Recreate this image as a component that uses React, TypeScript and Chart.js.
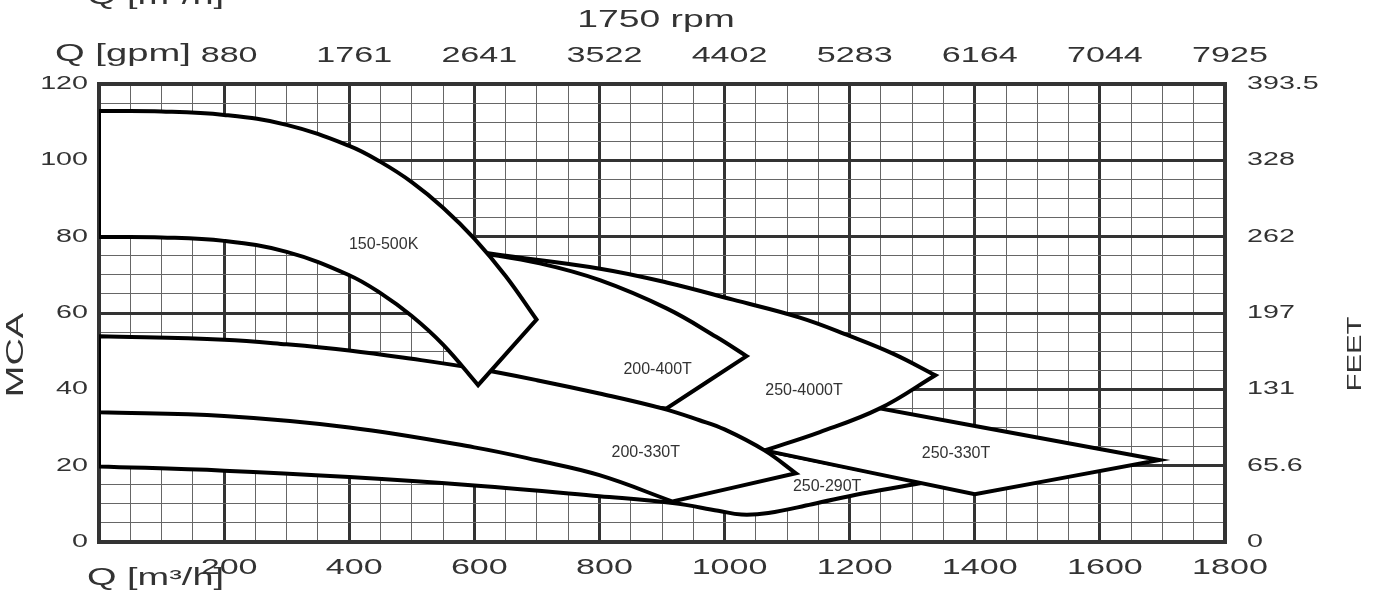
import React, { useEffect, useRef } from 'react';
import { Chart, registerables } from 'chart.js';

Chart.register(...registerables);

type Pt = [number, number];

// Pump models, listed from the topmost field to the lowest one.
const models = ['150-500K', '200-330T', '200-400T', '250-4000T', '250-330T', '250-290T'];

// Outline of each operating field, edge by edge, as [flow m³/h, head m].
// Sections that run underneath a neighbouring field are kept inside it.
const field150_500K: Pt[][] = [
  [[0, 112.9], [100, 112.8], [200, 111.9], [300, 109.3], [400, 103.8], [450, 99.6], [500, 94.3], [550, 87.6], [600, 79.5], [650, 69.7], [699.4, 58.3]],
  [[699.4, 58.3], [606, 41.1]],
  [[606, 41.1], [550, 51.7], [500, 59.2], [450, 65.2], [400, 69.9], [300, 76.0], [200, 78.9], [100, 79.8], [0, 79.9]],
  [[0, 79.9], [0, 112.9]],
];

const field200_330T: Pt[][] = [
  [[0, 53.9], [200, 53.0], [300, 51.8], [400, 50.2], [500, 48.0], [600, 45.5], [700, 42.4], [800, 38.9], [900, 35.0], [960, 31.9], [1000, 29.5], [1063.8, 24.0], [1114, 18.0]],
  [[1114, 18.0], [917, 10.6]],
  [[917, 10.6], [800, 17.5], [700, 21.4], [600, 24.8], [400, 30.0], [200, 33.0], [0, 34.0]],
  [[0, 34.0], [0, 53.9]],
];

const field200_400T: Pt[][] = [
  [[600, 76.0], [704.6, 73.0], [800.6, 68.6], [907.3, 61.2], [987.2, 53.7], [1035.2, 48.7]],
  [[1035.2, 48.7], [907.3, 35.0]],
  [[907.3, 35.0], [800, 36.8], [700, 39.8], [615, 44.0]],
  [[615, 44.0], [600, 76.0]],
];

const field250_4000T: Pt[][] = [
  [[600, 76.5], [624.7, 75.6], [801, 71.6], [907.3, 68.0], [1013.3, 63.5], [1120.4, 58.8], [1200, 54.0], [1270, 49.3], [1337, 43.7]],
  [[1337, 43.7], [1248.3, 35.0], [1152.4, 28.8], [1063.8, 24.0]],
  [[1063.8, 24.0], [1000, 27.2], [900, 33.0], [700, 40.0], [615, 44.2]],
  [[615, 44.2], [600, 76.5]],
];

const field250_330T: Pt[][] = [
  [[1063.8, 24.0], [1110, 39.2]],
  [[1110, 39.2], [1695, 21.5]],
  [[1695, 21.5], [1400, 12.5]],
  [[1400, 12.5], [1063.8, 24.0]],
];

const field250_290T: Pt[][] = [
  [[0, 19.8], [200, 18.7], [400, 17.0], [600, 14.8], [800, 12.0], [917, 10.2], [990, 8.2], [1027, 7.2], [1070, 7.6], [1140, 9.9], [1220, 12.7], [1320, 15.6]],
  [[1320, 15.6], [1063.8, 24.0]],
  [[1063.8, 24.0], [960, 25.0], [800, 25.5], [600, 30.0], [400, 33.0], [200, 36.0], [0, 37.5]],
  [[0, 37.5], [0, 19.8]],
];

const fields = [field150_500K, field200_330T, field200_400T, field250_4000T, field250_330T, field250_290T];

// Where each model name sits, in flow / head units.
const labelFlow = [455, 874, 893, 1127, 1370, 1164];
const labelHead = [77.8, 23.5, 45.3, 39.8, 23.2, 14.6];

// Axis labels
const flowTicks = [200, 400, 600, 800, 1000, 1200, 1400, 1600, 1800];
const gpmLabels = ['880', '1761', '2641', '3522', '4402', '5283', '6164', '7044', '7925'];
const headTicks = [0, 20, 40, 60, 80, 100, 120];
const feetLabels = ['0', '65.6', '131', '197', '262', '328', '393.5'];

const FONT = '"Liberation Sans", Arial, Helvetica, sans-serif';
const INK = '#333';

function wideText(
  ctx: CanvasRenderingContext2D,
  text: string,
  x: number,
  y: number,
  size: number,
  sx: number,
  align: CanvasTextAlign,
  baseline: CanvasTextBaseline = 'alphabetic',
  angle = 0,
) {
  ctx.save();
  ctx.translate(x, y);
  if (angle) ctx.rotate(angle);
  ctx.scale(sx, 1);
  ctx.font = `${size}px ${FONT}`;
  ctx.textAlign = align;
  ctx.textBaseline = baseline;
  ctx.fillStyle = INK;
  ctx.fillText(text, 0, 0);
  ctx.restore();
}

const textPlugin = {
  id: 'pumpText',
  afterDraw(chart: any) {
    const { ctx, scales } = chart;
    const { x, x2, y, y2 } = scales;

    // tick labels
    x.ticks.forEach((t: any) => {
      if (t.label) wideText(ctx, String(t.label), x.getPixelForValue(t.value) + 5, 574, 22, 1.55, 'center');
    });
    x2.ticks.forEach((t: any) => {
      if (t.label) wideText(ctx, String(t.label), x2.getPixelForValue(t.value) + 5, 62, 22, 1.55, 'center');
    });
    y.ticks.forEach((t: any) => {
      if (t.label !== '') wideText(ctx, String(t.label), 88, y.getPixelForValue(t.value), 18.5, 1.55, 'right', 'middle');
    });
    y2.ticks.forEach((t: any) => {
      if (t.label !== '') wideText(ctx, String(t.label), 1247, y2.getPixelForValue(t.value), 18.5, 1.55, 'left', 'middle');
    });

    // titles
    wideText(ctx, 'Q [m³/h]', 87, 3.5, 23, 1.65, 'left');
    wideText(ctx, '1750 rpm', 656, 27, 23, 1.62, 'center');
    wideText(ctx, 'Q [gpm]', 55, 61, 23, 1.66, 'left');
    wideText(ctx, 'Q [m³/h]', 87, 585, 23, 1.65, 'left');
    wideText(ctx, 'MCA', 17, 355, 23, 1.65, 'center', 'middle', -Math.PI / 2);
    wideText(ctx, 'FEET', 1355, 354, 21, 1.4, 'center', 'middle', -Math.PI / 2);

    // model names
    ctx.save();
    ctx.font = `16px ${FONT}`;
    ctx.fillStyle = INK;
    ctx.textAlign = 'center';
    ctx.textBaseline = 'middle';
    models.forEach((name, i) => {
      ctx.fillText(name, x.getPixelForValue(labelFlow[i]), y.getPixelForValue(labelHead[i]));
    });
    ctx.restore();
  },
};

export default function App() {
  const canvasRef = useRef<HTMLCanvasElement | null>(null);

  useEffect(() => {
    const canvas = canvasRef.current;
    if (!canvas) return;

    const datasets = fields.map((edges, i) => ({
      label: models[i],
      data: edges.flat().map(([q, h]) => ({ x: q, y: h })),
      borderColor: '#000',
      borderWidth: 4,
      backgroundColor: '#fff',
      fill: 'shape',
      tension: 0.4,
      pointRadius: 0,
      borderJoinStyle: 'miter' as const,
    }));

    const major = (v: number, step: number) => Math.abs(v % step) < 1e-9;

    const chart = new Chart(canvas, {
      type: 'line',
      data: { datasets: datasets as any },
      options: {
        animation: false,
        responsive: false,
        devicePixelRatio: 1,
        layout: { padding: 0 },
        plugins: { legend: { display: false }, tooltip: { enabled: false } },
        scales: {
          x: {
            type: 'linear',
            position: 'bottom',
            min: 0,
            max: 1800,
            ticks: {
              stepSize: 50,
              autoSkip: false,
              display: false,
              callback: (v: any) => (flowTicks.includes(Number(v)) ? String(v) : ''),
            },
            grid: {
              drawTicks: false,
              color: (c: any) => (major(c.tick.value, 200) ? '#333' : '#666'),
              lineWidth: (c: any) => (major(c.tick.value, 200) ? 3 : 1),
            },
            border: { display: true, color: '#333', width: 4 },
            afterFit: (s: any) => {
              s.height = 49;
            },
          },
          x2: {
            type: 'linear',
            position: 'top',
            min: 0,
            max: 1800,
            ticks: {
              stepSize: 200,
              autoSkip: false,
              display: false,
              callback: (v: any) => {
                const i = flowTicks.indexOf(Number(v));
                return i >= 0 ? gpmLabels[i] : '';
              },
            },
            grid: { display: false, drawTicks: false },
            border: { display: true, color: '#333', width: 4 },
            afterFit: (s: any) => {
              s.height = 84;
            },
          },
          y: {
            type: 'linear',
            position: 'left',
            min: 0,
            max: 120,
            ticks: {
              stepSize: 5,
              autoSkip: false,
              display: false,
              callback: (v: any) => (headTicks.includes(Number(v)) ? String(v) : ''),
            },
            grid: {
              drawTicks: false,
              color: (c: any) => (major(c.tick.value, 20) ? '#333' : '#666'),
              lineWidth: (c: any) => (major(c.tick.value, 20) ? 3 : 1),
            },
            border: { display: true, color: '#333', width: 4 },
            afterFit: (s: any) => {
              s.width = 99;
            },
          },
          y2: {
            type: 'linear',
            position: 'right',
            min: 0,
            max: 120,
            ticks: {
              stepSize: 20,
              autoSkip: false,
              display: false,
              callback: (v: any) => {
                const i = headTicks.indexOf(Number(v));
                return i >= 0 ? feetLabels[i] : '';
              },
            },
            grid: { display: false, drawTicks: false },
            border: { display: true, color: '#333', width: 4 },
            afterFit: (s: any) => {
              s.width = 157;
            },
          },
        },
      },
      plugins: [textPlugin],
    });

    return () => chart.destroy();
  }, []);

  return (
    <div style={{ position: 'fixed', left: 0, top: 0, width: 1382, height: 591, background: '#fff' }}>
      <canvas ref={canvasRef} width={1382} height={591} style={{ display: 'block' }} />
    </div>
  );
}
